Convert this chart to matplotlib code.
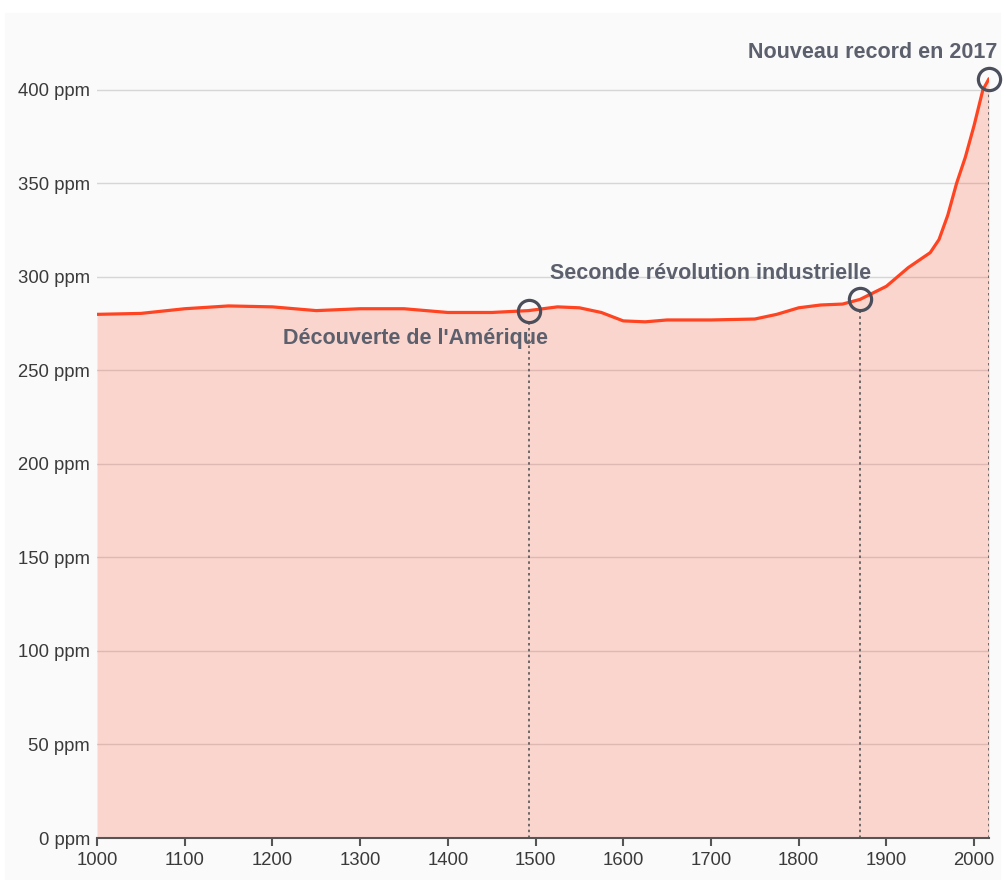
import matplotlib.pyplot as plt
from matplotlib.patches import Rectangle

plt.rcParams['font.family'] = ['Liberation Sans', 'DejaVu Sans']

# CO2 concentration (ppm)
years = [1000, 1050, 1100, 1150, 1200, 1250, 1300, 1350, 1400, 1450, 1492,
         1525, 1550, 1575, 1600, 1625, 1650, 1700, 1750, 1775, 1800, 1825,
         1850, 1870, 1900, 1925, 1950, 1960, 1970, 1980, 1990, 2000, 2010, 2017]
ppm = [280, 280.5, 283, 284.5, 284, 282, 283, 283, 281, 281, 282,
       284, 283.5, 281, 276.5, 276, 277, 277, 277.5, 280, 283.5, 285,
       285.5, 288, 295, 305, 313, 320, 333, 350, 364, 381, 400, 406]

events_x = [1492, 1870, 2017]
events_y = [282, 288, 406]
events_lbl = ["Découverte de l'Amérique", "Seconde révolution industrielle",
              "Nouveau record en 2017"]
# label anchor (x, y, ha)
lbl_pos = [(1363, 267, 'center'), (1699, 302, 'center'), (2026, 420, 'right')]

yticks = [0, 50, 100, 150, 200, 250, 300, 350, 400]
xticks = [1000, 1100, 1200, 1300, 1400, 1500, 1600, 1700, 1800, 1900, 2000]

W, H = 1006, 880
fig = plt.figure(figsize=(W / 100, H / 100), dpi=100, facecolor='white')
fig.patches.append(Rectangle((5 / W, 0), 995 / W, (H - 13) / H,
                             transform=fig.transFigure, color='#fafafa', zorder=-10))

ax = fig.add_axes([97 / W, (H - 838) / H, (989 - 97) / W, (838 - 60) / H])
ax.set_facecolor('none')
ax.set_xlim(1000, 2017)
ax.set_ylim(0, 416)

line_col = '#ff4422'
ax.fill_between(years, ppm, 0, color=line_col, alpha=0.2, lw=0, zorder=2)
ax.plot(years, ppm, color=line_col, lw=2.3, zorder=4, solid_capstyle='round')

for y in yticks[1:]:
    ax.axhline(y, color='#d6d6d6', lw=1.0, zorder=1)

for x, y in zip(events_x, events_y):
    # dotted drop line starts at the bottom of the circle
    ax.plot([x, x], [0, y - 6], color='#555555', lw=1.2, ls=(0, (1.5, 2)), zorder=3)
    ax.plot(x, y, 'o', ms=16, mfc='none', mec='#4b4f5b', mew=2.3, zorder=5, clip_on=False)

for (lx, ly, ha), t in zip(lbl_pos, events_lbl):
    ax.text(lx, ly, t, ha=ha, va='center', fontsize=15.5, fontweight='bold',
            color='#5c606d', clip_on=False, zorder=6)

ax.set_yticks(yticks)
ax.set_yticklabels([f'{v} ppm' for v in yticks])
ax.set_xticks(xticks)
ax.set_xticklabels([str(v) for v in xticks])
ax.tick_params(axis='y', length=0, pad=5, labelsize=13.3, labelcolor='#3a3a3a')
ax.tick_params(axis='x', length=6, width=1.5, color='#555555', pad=4,
               labelsize=13.3, labelcolor='#3a3a3a')
for s in ['top', 'right', 'left']:
    ax.spines[s].set_visible(False)
ax.spines['bottom'].set_color('#555555')
ax.spines['bottom'].set_linewidth(1.5)

fig.savefig('out.png', dpi=100, facecolor=fig.get_facecolor())
